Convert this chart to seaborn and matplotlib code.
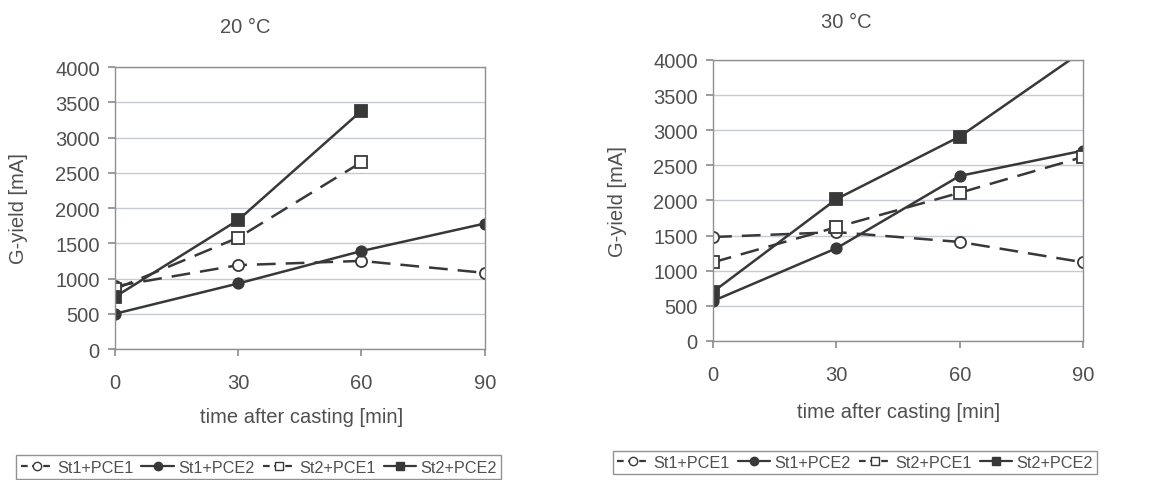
import pandas as pd
import numpy as np
import seaborn as sns
import matplotlib.pyplot as plt
from matplotlib.lines import Line2D

# data
times = [0, 30, 60, 90]
series_names = ['St1+PCE1', 'St1+PCE2', 'St2+PCE1', 'St2+PCE2']

# 20 °C
t20_st1_pce1 = [890, 1190, 1250, 1080]
t20_st1_pce2 = [500, 930, 1390, 1780]
t20_st2_pce1 = [850, 1580, 2650, np.nan]
t20_st2_pce2 = [740, 1830, 3380, np.nan]

# 30 °C
t30_st1_pce1 = [1480, 1550, 1410, 1120]
t30_st1_pce2 = [570, 1320, 2350, 2710]
t30_st2_pce1 = [1120, 1620, 2110, 2620]
t30_st2_pce2 = [700, 2020, 2910, 4130]

panels = [
    ('20 °C', [t20_st1_pce1, t20_st1_pce2, t20_st2_pce1, t20_st2_pce2]),
    ('30 °C', [t30_st1_pce1, t30_st1_pce2, t30_st2_pce1, t30_st2_pce2]),
]

sns.set_theme(style='white')
plt.rcParams['font.family'] = ['Liberation Sans', 'DejaVu Sans']

line_col = '#383838'
text_col = '#505050'
styles = {
    'St1+PCE1': dict(marker='o', mfc='white', dashed=True, ms=8),
    'St1+PCE2': dict(marker='o', mfc=line_col, dashed=False, ms=7.5),
    'St2+PCE1': dict(marker='s', mfc='white', dashed=True, ms=8),
    'St2+PCE2': dict(marker='s', mfc=line_col, dashed=False, ms=8),
}

fig = plt.figure(figsize=(11.52, 4.81), dpi=100)
ax_pos = [[0.0998, 0.2723, 0.321, 0.5863], [0.619, 0.289, 0.3212, 0.5842]]
title_x = [0.213, 0.735]
title_y = [0.943, 0.953]
xlab = [(0.262, 0.131), (0.78, 0.143)]
ylab_x = [0.016, 0.536]
leg_xy = [(0.2245, 0.027), (0.742, 0.036)]

for i, (title, vals) in enumerate(panels):
    ax = fig.add_axes(ax_pos[i])
    df = pd.DataFrame({'time': times * 4,
                       'yield': sum(vals, []),
                       'series': [n for n in series_names for _ in times]})
    for name in series_names:
        st = styles[name]
        sub = df[df['series'] == name].dropna()
        sns.lineplot(data=sub, x='time', y='yield', ax=ax, color=line_col,
                     marker=st['marker'], markerfacecolor=st['mfc'],
                     markeredgecolor=line_col, markersize=st['ms'],
                     markeredgewidth=1.3, linewidth=1.8, legend=False)
        if st['dashed']:
            ax.lines[-1].set_dashes((7.5, 4))
        else:
            ax.lines[-1].set_linestyle('-')

    ax.set_xlim(0, 90)
    ax.set_ylim(0, 4000)
    ax.set_xticks(times)
    ax.set_yticks(range(0, 4001, 500))
    ax.yaxis.grid(True, color='#c5cad3', linewidth=1)
    ax.xaxis.grid(False)
    for sp in ax.spines.values():
        sp.set_color('#8f8f8f')
        sp.set_linewidth(1)
    ax.tick_params(axis='both', which='both', direction='out', length=5,
                   color='#8f8f8f', labelcolor=text_col, labelsize=14.5, bottom=True, left=True)
    ax.tick_params(axis='x', pad=12)
    ax.tick_params(axis='y', pad=6)
    ax.set_xlabel('')
    ax.set_ylabel('')
    fig.text(title_x[i], title_y[i], title, ha='center', va='center', fontsize=14.5, color=text_col)
    fig.text(xlab[i][0], xlab[i][1], 'time after casting [min]', ha='center', va='center',
             fontsize=14.5, color=text_col)
    fig.text(ylab_x[i], (ax_pos[i][1] + ax_pos[i][3] / 2), 'G-yield [mA]', ha='center', va='center',
             rotation=90, fontsize=14.5, color=text_col)

    handles = []
    for name in series_names:
        st = styles[name]
        h = Line2D([0], [0], color=line_col, marker=st['marker'], markerfacecolor=st['mfc'],
                   markeredgecolor=line_col, markersize=6, linewidth=1.6,
                   linestyle=(0, (3, 2)) if st['dashed'] else '-')
        handles.append(h)
    leg = fig.legend(handles, series_names, loc='center', bbox_to_anchor=leg_xy[i], ncol=4,
                     fontsize=11.7, frameon=True, fancybox=False, handlelength=2.0,
                     handletextpad=0.25, columnspacing=0.5, borderpad=0.25,
                     labelcolor=text_col)
    leg.get_frame().set_edgecolor('#777777')
    leg.get_frame().set_linewidth(1)

fig.savefig('out.png', dpi=100)
